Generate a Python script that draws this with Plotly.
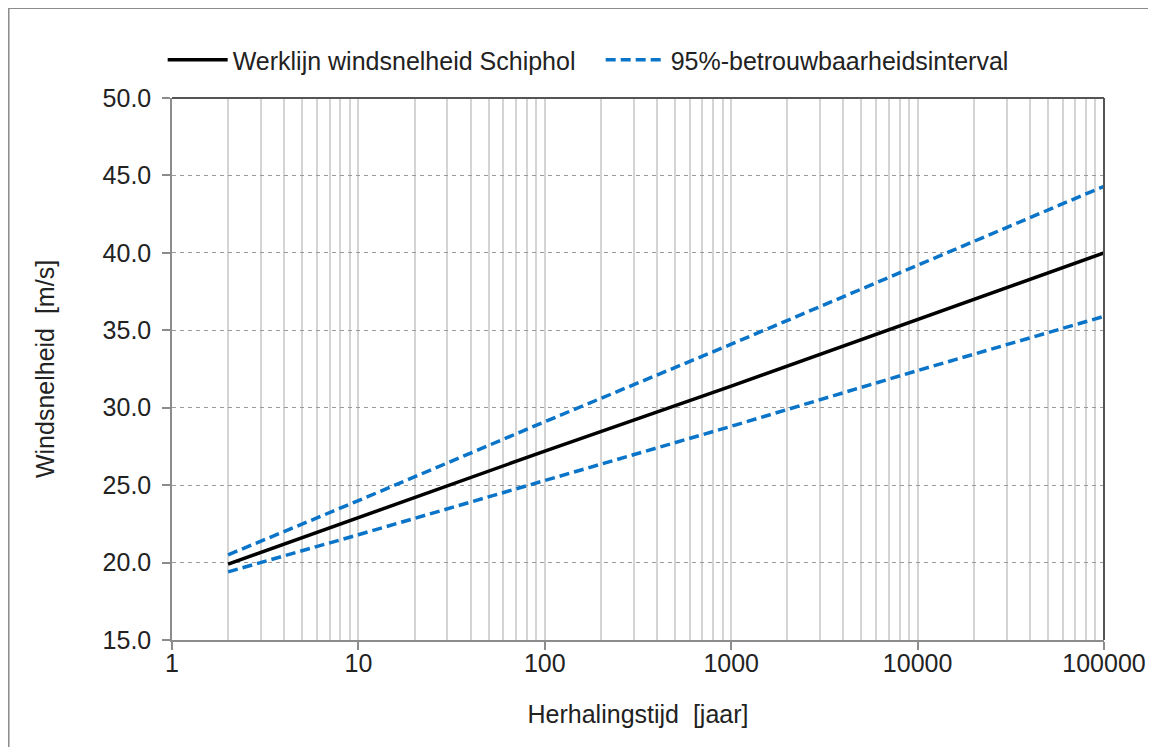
import plotly.graph_objects as go

# Return period (years)
herhalingstijd = [2, 10, 100, 1000, 10000, 100000]
# Wind speed (m/s)
werklijn = [19.9, 22.9, 27.2, 31.4, 35.7, 40.0]
boven_95 = [20.5, 24.0, 29.1, 34.1, 39.2, 44.3]
onder_95 = [19.4, 21.8, 25.3, 28.8, 32.4, 35.9]

x_ticks = [1, 10, 100, 1000, 10000, 100000]
x_ticklabels = ["1", "10", "100", "1000", "10000", "100000"]
y_ticks = [15, 20, 25, 30, 35, 40, 45, 50]

FONT = "Liberation Sans, Arial, sans-serif"
BLUE = "#0a74c8"

fig = go.Figure()
fig.add_trace(go.Scatter(
    x=herhalingstijd, y=werklijn, mode="lines",
    name="Werklijn windsnelheid Schiphol",
    line=dict(color="black", width=3.5),
))
fig.add_trace(go.Scatter(
    x=herhalingstijd, y=boven_95, mode="lines",
    name="95%-betrouwbaarheidsinterval",
    line=dict(color=BLUE, width=3.5, dash="10px,5px"),
    legendgroup="ci",
))
fig.add_trace(go.Scatter(
    x=herhalingstijd, y=onder_95, mode="lines",
    name="95%-betrouwbaarheidsinterval",
    line=dict(color=BLUE, width=3.5, dash="10px,5px"),
    legendgroup="ci", showlegend=False,
))

fig.update_layout(
    width=1156, height=747,
    margin=dict(l=164, r=60, t=90, b=115),
    paper_bgcolor="white", plot_bgcolor="white",
    font=dict(family=FONT, size=25, color="#222222"),
    showlegend=True,
    legend=dict(
        orientation="h", x=-0.01, y=1.07, xanchor="left", yanchor="middle",
        font=dict(family=FONT, size=25, color="#222222"),
        entrywidth=363, entrywidthmode="pixels",
        bgcolor="rgba(0,0,0,0)", itemwidth=60,
    ),
    xaxis=dict(
        type="log", range=[0, 5],
        tickvals=x_ticks, ticktext=x_ticklabels,
        showgrid=True, gridcolor="#d4d4d4", gridwidth=1.5,
        minor=dict(dtick="D1", showgrid=True, gridcolor="#d4d4d4", gridwidth=1.5, ticks=""),
        showline=True, linecolor="#8c8c8c", linewidth=1.5,
        ticks="outside", ticklen=8, tickcolor="#8c8c8c", tickwidth=1.5,
        ticklabelstandoff=-8,
        title=dict(text="Herhalingstijd\u00a0 [jaar]", font=dict(size=25), standoff=30),
        zeroline=False,
    ),
    yaxis=dict(
        range=[15, 50], tickvals=y_ticks, tickformat=".1f",
        showgrid=True, gridcolor="#9a9a9a", gridwidth=1, griddash="4px,4px",
        showline=True, linecolor="#8c8c8c", linewidth=1.5,
        ticks="outside", ticklen=8, tickcolor="#8c8c8c", tickwidth=1.5,
        ticklabelstandoff=6,
        title=dict(text="Windsnelheid\u00a0 [m/s]", font=dict(size=25), standoff=41),
        zeroline=False,
    ),
    shapes=[
        # plot area top and right borders
        dict(type="line", xref="x domain", yref="y domain", x0=0, x1=1, y0=1, y1=1,
             line=dict(color="#555555", width=2)),
        dict(type="line", xref="x domain", yref="y domain", x0=1, x1=1, y0=0, y1=1,
             line=dict(color="#555555", width=2)),
        # outer chart frame
        dict(type="rect", xref="paper", yref="paper", x0=-0.1754, x1=1.0504, y0=-0.21, y1=1.166,
             line=dict(color="#8c8c8c", width=2), layer="below"),
    ],
)

fig.write_html("out.html")
